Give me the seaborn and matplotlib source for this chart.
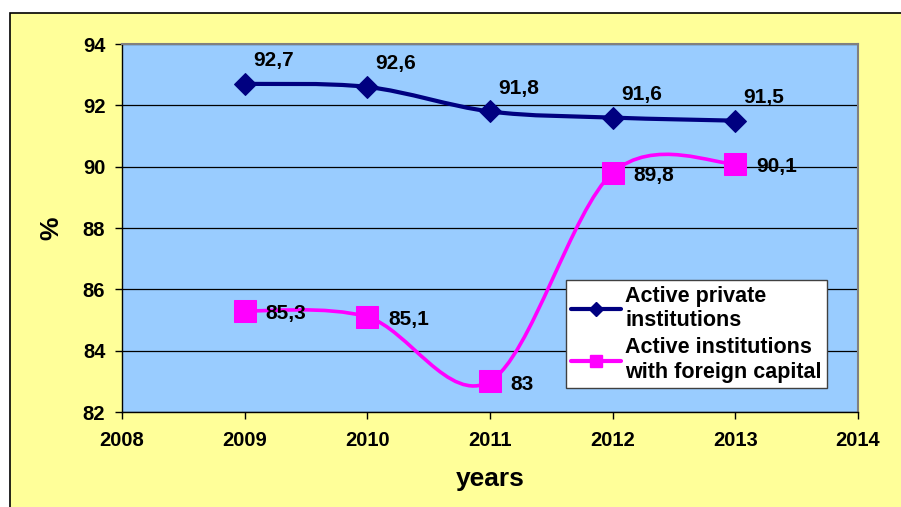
import matplotlib
matplotlib.use("Agg")
import matplotlib.pyplot as plt
import seaborn as sns
import pandas as pd
from matplotlib.path import Path
from matplotlib.patches import PathPatch, Rectangle
from matplotlib.lines import Line2D

years = [2009, 2010, 2011, 2012, 2013]
private = [92.7, 92.6, 91.8, 91.6, 91.5]
foreign = [85.3, 85.1, 83.0, 89.8, 90.1]
private_labels = ["92,7", "92,6", "91,8", "91,6", "91,5"]
foreign_labels = ["85,3", "85,1", "83", "89,8", "90,1"]
legend_names = ["Active private\ninstitutions",
                "Active institutions\nwith foreign capital"]
x_ticks = [2008, 2009, 2010, 2011, 2012, 2013, 2014]
y_ticks = [82, 84, 86, 88, 90, 92, 94]

NAVY = "#000080"
MAGENTA = "#FF00FF"


def smooth_path(xs, ys):
    # excel-like smoothed line: cubic bezier through the points
    pts = list(zip(xs, ys))
    verts = [pts[0]]
    codes = [Path.MOVETO]
    n = len(pts)
    for i in range(n - 1):
        p0 = pts[i - 1] if i > 0 else pts[i]
        p1 = pts[i]
        p2 = pts[i + 1]
        p3 = pts[i + 2] if i + 2 < n else pts[i + 1]
        c1 = (p1[0] + (p2[0] - p0[0]) / 6, p1[1] + (p2[1] - p0[1]) / 6)
        c2 = (p2[0] - (p3[0] - p1[0]) / 6, p2[1] - (p3[1] - p1[1]) / 6)
        verts += [c1, c2, p2]
        codes += [Path.CURVE4] * 3
    return Path(verts, codes)


sns.set_theme(style="white")
plt.rcParams["font.family"] = ["Liberation Sans", "DejaVu Sans"]
plt.rcParams["font.weight"] = "bold"
plt.rcParams["text.color"] = "black"
plt.rcParams["axes.labelcolor"] = "black"
plt.rcParams["xtick.color"] = "black"
plt.rcParams["ytick.color"] = "black"

fig = plt.figure(figsize=(9.01, 5.07), dpi=100, facecolor="white")
fig.patches.append(Rectangle((10 / 901, -0.05), 1.1, 1 - 13 / 507 + 0.05,
                             transform=fig.transFigure, facecolor="#FFFF99",
                             edgecolor="black", linewidth=1.2, zorder=-5))
ax = fig.add_axes([122 / 901, 1 - 412 / 507, 736 / 901, 368 / 507])
ax.set_facecolor("#99CCFF")

df = pd.DataFrame({"year": years, "private": private, "foreign": foreign})

ax.add_patch(PathPatch(smooth_path(years, private), facecolor="none",
                       edgecolor=NAVY, linewidth=3, zorder=3))
ax.add_patch(PathPatch(smooth_path(years, foreign), facecolor="none",
                       edgecolor=MAGENTA, linewidth=2.6, zorder=3))
sns.lineplot(data=df, x="year", y="private", ax=ax, color=NAVY,
             linestyle="none", marker="D", markersize=11.5,
             markeredgecolor=NAVY, zorder=4)
sns.lineplot(data=df, x="year", y="foreign", ax=ax, color=MAGENTA,
             linestyle="none", marker="s", markersize=16,
             markeredgecolor=MAGENTA, zorder=4)

for x, y, t in zip(years, private, private_labels):
    ax.annotate(t, (x, y), xytext=(6, 10), textcoords="offset points",
                ha="left", va="bottom", fontsize=15, fontweight="bold")
for x, y, t in zip(years, foreign, foreign_labels):
    ax.annotate(t, (x, y), xytext=(15, -2), textcoords="offset points",
                ha="left", va="center", fontsize=15, fontweight="bold")

ax.set_xlim(2008, 2014)
ax.set_ylim(82, 94)
ax.set_xticks(x_ticks)
ax.set_yticks(y_ticks)
ax.tick_params(axis="both", labelsize=14.5, length=5, width=1, color="black",
               labelcolor="black", direction="out", bottom=True, left=True)
ax.tick_params(axis="x", pad=9)
ax.tick_params(axis="y", pad=7)
ax.yaxis.grid(True, color="black", linewidth=0.9)
ax.set_axisbelow(True)
for s in ["left", "bottom"]:
    ax.spines[s].set_color("black")
    ax.spines[s].set_linewidth(1)
for s in ["top", "right"]:
    ax.spines[s].set_color("#808080")
    ax.spines[s].set_linewidth(1.5)

ax.set_xlabel("years", fontsize=19, fontweight="bold", labelpad=12)
ax.set_ylabel("%", fontsize=19, fontweight="bold", labelpad=14)

handles = [
    Line2D([], [], color=NAVY, lw=3, marker="D", markersize=7),
    Line2D([], [], color=MAGENTA, lw=3, marker="s", markersize=8),
]
leg = ax.legend(handles, legend_names, loc="lower left",
                bbox_to_anchor=(0.603, 0.065), frameon=True, fancybox=False,
                framealpha=1, edgecolor="#404040", facecolor="white",
                prop={"size": 15.5, "weight": "bold"}, handlelength=2.3,
                handletextpad=0.2, borderpad=0.25, labelspacing=0.3,
                borderaxespad=0)
leg.get_frame().set_linewidth(1)

fig.savefig("out.png", dpi=100, facecolor=fig.get_facecolor())
